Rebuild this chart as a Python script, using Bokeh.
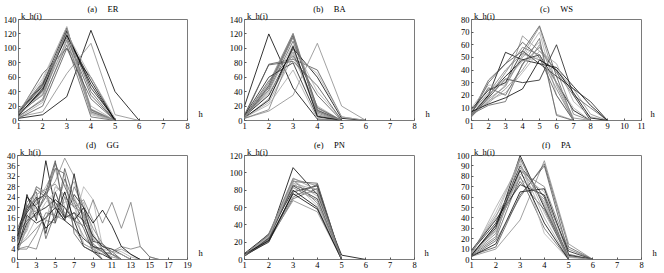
from bokeh.plotting import figure
from bokeh.layouts import row, column
from bokeh.models import Range1d, FixedTicker, LinearAxis
from bokeh.embed import file_html
from bokeh.resources import INLINE

# ---------------- data ----------------
ER = [
    [3, 8, 33, 125, 40, 0],
    [5, 12, 65, 107, 8, 0],
    [10, 65, 100, 60, 0],
    [8, 55, 130, 10, 0],
    [12, 50, 128, 15, 0],
    [6, 45, 125, 12, 0],
    [9, 40, 122, 40, 0],
    [7, 38, 120, 8, 0],
    [10, 48, 118, 55, 0],
    [5, 30, 126, 14, 0],
    [14, 52, 115, 35, 0],
    [4, 25, 110, 20, 0],
    [8, 42, 124, 45, 2],
    [11, 35, 112, 12, 0],
    [6, 28, 105, 5, 0],
    [13, 58, 130, 10, 0],
    [7, 44, 119, 50, 0],
    [9, 36, 127, 16, 0],
    [3, 20, 100, 30, 0],
    [10, 46, 121, 60, 3],
]
BA = [
    [20, 120, 45, 2, 0],
    [3, 13, 35, 107, 20, 0],
    [5, 78, 85, 70, 5, 0],
    [3, 50, 120, 15, 0],
    [3, 48, 118, 14, 0],
    [4, 52, 121, 17, 0],
    [5, 45, 115, 12, 0],
    [4, 40, 105, 40, 2],
    [6, 35, 100, 60, 3, 0],
    [3, 30, 95, 8, 0],
    [5, 55, 90, 35, 0],
    [4, 25, 88, 20, 0],
    [7, 60, 80, 5, 0],
    [3, 15, 100, 10, 0],
    [5, 42, 110, 18, 0],
    [6, 38, 92, 65, 5, 0],
    [4, 28, 103, 6, 0],
    [3, 47, 119, 13, 0],
    [8, 77, 82, 48, 0],
    [4, 22, 70, 2, 0],
]
WS = [
    [5, 20, 54, 48, 52, 30, 8, 0],
    [4, 15, 28, 67, 55, 40, 25, 5, 0],
    [6, 32, 45, 55, 75, 35, 0],
    [8, 25, 30, 50, 62, 5, 0],
    [3, 18, 33, 30, 32, 60, 20, 0],
    [7, 22, 40, 53, 48, 40, 5, 0],
    [5, 12, 15, 45, 58, 38, 20, 10, 0],
    [10, 28, 28, 50, 70, 20, 0],
    [4, 20, 35, 48, 45, 42, 27, 12, 0],
    [6, 14, 25, 40, 60, 30, 2, 0],
    [5, 30, 45, 62, 50, 20, 0],
    [3, 16, 22, 38, 55, 45, 15, 3, 0],
    [9, 24, 30, 55, 45, 35, 25, 15, 0],
    [4, 19, 38, 58, 52, 25, 0],
    [6, 26, 20, 44, 65, 4, 0],
    [5, 21, 32, 47, 50, 30, 10, 0],
    [7, 13, 18, 25, 48, 40, 22, 2, 0],
    [4, 17, 27, 52, 74, 28, 0],
]
GG = [
    [4, 25, 15, 38, 20, 15, 12, 8, 5, 3, 2, 0],
    [8, 18, 28, 25, 30, 39, 32, 20, 8, 4, 0],
    [12, 20, 27, 24, 37, 28, 20, 18, 9, 5, 3, 0],
    [6, 15, 22, 28, 35, 20, 15, 22, 10, 4, 0],
    [9, 19, 24, 10, 26, 16, 25, 20, 7, 6, 2, 0],
    [4, 5, 4, 15, 14, 24, 20, 23, 15, 3, 0],
    [7, 22, 26, 8, 18, 31, 22, 14, 4, 0],
    [10, 17, 20, 24, 16, 17, 15, 28, 23, 5, 4, 3, 1, 0],
    [5, 14, 18, 20, 23, 20, 15, 5, 3, 2, 0],
    [3, 12, 25, 27, 29, 24, 12, 6, 4, 2, 3, 4, 2, 0],
    [8, 20, 21, 26, 14, 35, 23, 17, 6, 3, 0],
    [6, 16, 19, 15, 28, 25, 30, 17, 5, 0],
    [11, 18, 23, 25, 22, 16, 18, 15, 9, 5, 4, 2, 0],
    [4, 4, 10, 18, 17, 15, 28, 20, 12, 6, 3, 5, 4, 5, 1, 0],
    [7, 21, 18, 24, 35, 33, 10, 5, 3, 0],
    [5, 9, 16, 22, 26, 29, 21, 6, 4, 3, 2, 0],
    [9, 24, 20, 12, 16, 26, 15, 20, 14, 19, 13, 5, 2, 0],
    [3, 13, 28, 26, 15, 20, 16, 9, 5, 3, 1, 0],
    [10, 15, 17, 26, 38, 16, 18, 12, 3, 0],
    [6, 11, 22, 25, 19, 22, 24, 16, 8, 4, 3, 2, 0],
    [4, 17, 14, 16, 20, 15, 33, 14, 5, 4, 0],
    [5, 8, 12, 16, 22, 18, 15, 13, 23, 14, 22, 12, 22, 5, 1, 0],
]
PN = [
    [5, 25, 106, 75, 5, 0],
    [6, 28, 93, 85, 0],
    [4, 22, 90, 88, 0],
    [5, 27, 88, 80, 0],
    [6, 24, 85, 70, 0],
    [5, 30, 92, 65, 0],
    [4, 21, 70, 82, 0],
    [5, 26, 75, 78, 0],
    [7, 29, 80, 60, 0],
    [5, 23, 68, 55, 0],
    [4, 25, 86, 76, 0],
    [6, 27, 91, 73, 0],
    [5, 20, 78, 85, 0],
    [6, 28, 83, 68, 0],
    [4, 24, 72, 87, 0],
    [5, 26, 89, 62, 0],
    [6, 22, 76, 58, 0],
    [5, 29, 94, 80, 0],
]
PA = [
    [5, 30, 100, 50, 3, 0],
    [3, 10, 38, 95, 15, 0],
    [4, 12, 62, 90, 5, 0],
    [6, 40, 98, 45, 2, 0],
    [8, 35, 90, 60, 0],
    [5, 25, 85, 70, 10, 0],
    [4, 20, 80, 30, 0],
    [7, 45, 95, 25, 0],
    [3, 15, 65, 68, 4, 0],
    [6, 28, 88, 55, 0],
    [5, 32, 75, 48, 0],
    [4, 50, 92, 40, 0],
    [9, 38, 72, 62, 8, 0],
    [5, 22, 97, 52, 0],
    [3, 18, 60, 92, 12, 0],
    [6, 27, 82, 65, 3, 0],
    [4, 33, 86, 35, 0],
    [7, 42, 78, 58, 0],
]

PANEL_TAGS = ["(a)", "(b)", "(c)", "(d)", "(e)", "(f)"]
PANEL_NAMES = ["ER", "BA", "WS", "GG", "PN", "PA"]
X_MAX = [8, 8, 11, 19, 8, 8]
Y_MAX = [140, 140, 80, 40, 120, 100]
X_TICKS = [list(range(1, 9)), list(range(1, 9)), list(range(1, 12)),
           list(range(1, 20, 2)), list(range(1, 9)), list(range(1, 9))]
Y_TICKS = [list(range(0, 141, 20)), list(range(0, 141, 20)), list(range(0, 81, 10)),
           list(range(0, 41, 4)), list(range(0, 121, 20)), list(range(0, 101, 10))]
SERIES = [ER, BA, WS, GG, PN, PA]
Y_LABEL = "k_h(i)"
X_LABEL = "h"

LINE_COLORS = ["#000000", "#8a8a8a", "#505050", "#a6a6a6", "#1e1e1e", "#7a7a7a", "#5e5e5e", "#b0b0b0"]
FONT = "Liberation Serif"
FS = "8.5px"
NB = "\u00a0"

# layout geometry (pixels)
WIDTHS = [215, 225, 224]
LEFTS = [17, 29, 31]
FRAME_W = 170
ROW_H = [133, 140]
TOPS = [[14, 14, 14], [21, 22, 22]]
BOTTOMS = [13, 14]
H_STANDOFF = [11, 11, 9, 11, 10, 11]


def style_text_axis(ax):
    ax.axis_line_color = None
    ax.major_tick_line_color = None
    ax.minor_tick_line_color = None
    ax.major_tick_in = 0
    ax.major_tick_out = 0
    ax.major_label_text_font = FONT
    ax.major_label_text_font_size = FS
    ax.major_label_text_color = "#000000"
    ax.axis_label_text_font = FONT
    ax.axis_label_text_font_size = FS
    ax.axis_label_text_font_style = "normal"
    ax.axis_label_text_color = "#000000"


def make_panel(i):
    r, c = divmod(i, 3)
    fh = ROW_H[r] - TOPS[r][c] - BOTTOMS[r]
    p = figure(width=WIDTHS[c], height=ROW_H[r], output_backend="svg",
               toolbar_location=None,
               x_range=Range1d(1, X_MAX[i]), y_range=Range1d(0, Y_MAX[i]),
               min_border_left=LEFTS[c],
               min_border_right=WIDTHS[c] - LEFTS[c] - FRAME_W,
               min_border_top=TOPS[r][c], min_border_bottom=BOTTOMS[r])
    p.outline_line_color = "#7a7a7a"
    p.outline_line_width = 1
    p.grid.visible = False
    p.background_fill_color = "white"
    p.border_fill_color = "white"
    for ax, ticks in ((p.xaxis[0], X_TICKS[i]), (p.yaxis[0], Y_TICKS[i])):
        ax.ticker = FixedTicker(ticks=ticks)
        ax.axis_line_color = None
        ax.major_tick_in = 2
        ax.major_tick_out = 0
        ax.major_tick_line_color = "#555555"
        ax.minor_tick_line_color = None
        ax.major_label_text_font = FONT
        ax.major_label_text_font_size = FS
        ax.major_label_text_color = "#000000"
        ax.major_label_standoff = 2
    for k, ys in enumerate(SERIES[i]):
        xs = list(range(1, len(ys) + 1))
        p.line(xs, ys, line_color=LINE_COLORS[k % len(LINE_COLORS)], line_width=0.8)

    # top axis: "k_h(i)" as a tick label near the left, panel title as axis label
    kx = 1 + 13.0 / FRAME_W * (X_MAX[i] - 1)
    top = LinearAxis(ticker=FixedTicker(ticks=[kx]),
                     major_label_overrides={kx: Y_LABEL},
                     axis_label=PANEL_TAGS[i] + NB * 5 + PANEL_NAMES[i])
    style_text_axis(top)
    top.major_label_standoff = -1
    top.axis_label_standoff = -6
    p.add_layout(top, "above")

    # right axis: "h" near the bottom
    hy = Y_MAX[i] * 7.0 / fh
    right = LinearAxis(ticker=FixedTicker(ticks=[hy]),
                       major_label_overrides={hy: X_LABEL})
    style_text_axis(right)
    right.major_label_standoff = H_STANDOFF[i]
    p.add_layout(right, "right")
    return p


panels = [make_panel(i) for i in range(6)]
layout = column(row(panels[0], panels[1], panels[2]),
                row(panels[3], panels[4], panels[5]))

open("out.html", "w").write(file_html(layout, INLINE))
